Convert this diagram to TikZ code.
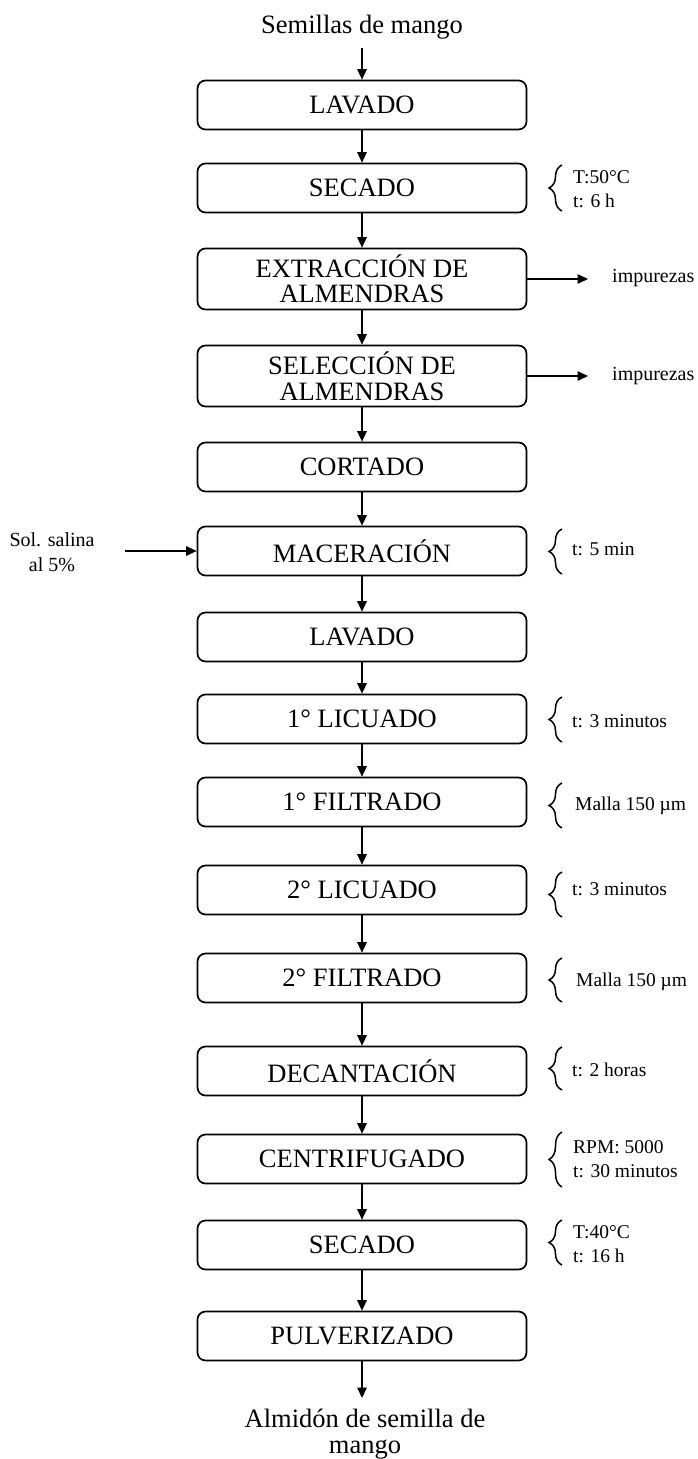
\documentclass[tikz,border=0pt]{standalone}
\usepackage{fontspec}
\setmainfont{Liberation Serif}
\usetikzlibrary{arrows.meta,decorations.pathreplacing}
\begin{document}
\begin{tikzpicture}[x=1pt,y=-1pt,
  proc/.style={draw, line width=1.7pt, rounded corners=8pt, minimum width=329pt,
    minimum height=49pt, align=center, font=\fontsize{26.5}{25.5}\selectfont, inner sep=0pt},
  tall/.style={minimum height=61pt},
  flow/.style={line width=1.5pt, -{Triangle[length=10.5pt,width=9.5pt]}},
  note/.style={anchor=west, align=left, font=\fontsize{19.5}{24}\selectfont, inner sep=0pt},
  lbl/.style={align=center, font=\fontsize{26.5}{25.5}\selectfont, inner sep=0pt},
  side/.style={align=center, font=\fontsize{20}{25}\selectfont, inner sep=0pt},
  br/.style={decorate, decoration={brace, amplitude=13pt}, line width=1.5pt},
]
\useasboundingbox (0,0) rectangle (697,1459);

% input / output labels
\node[lbl] (top) at (362,27) {Semillas de mango};
\coordinate (s0) at (362,48);
\node[lbl] (bot) at (365,1434) {Almidón de semilla de\\mango};
\coordinate (e0) at (362,1398);

% process boxes
\node[proc] (p1) at (362,105) {LAVADO};
\node[proc] (p2) at (362,188) {SECADO};
\node[proc,tall] (p3) at (362,279) {EXTRACCIÓN DE\\ALMENDRAS};
\node[proc,tall] (p4) at (362,376) {SELECCIÓN DE\\ALMENDRAS};
\node[proc] (p5) at (362,467) {CORTADO};
\node[proc] (p6) at (362,551) {MACERACIÓN};
\node[proc] (p7) at (362,637) {LAVADO};
\node[proc] (p8) at (362,719) {1° LICUADO};
\node[proc] (p9) at (362,802) {1° FILTRADO};
\node[proc] (p10) at (362,890) {2° LICUADO};
\node[proc] (p11) at (362,978) {2° FILTRADO};
\node[proc] (p12) at (362,1071) {DECANTACIÓN};
\node[proc] (p13) at (362,1159) {CENTRIFUGADO};
\node[proc] (p14) at (362,1245) {SECADO};
\node[proc] (p15) at (362,1336) {PULVERIZADO};

% main flow
\draw[flow] (s0) -- (p1);
\foreach \a/\b in {p1/p2,p2/p3,p3/p4,p4/p5,p5/p6,p6/p7,p7/p8,p8/p9,p9/p10,p10/p11,p11/p12,p12/p13,p13/p14,p14/p15}
  \draw[flow] (\a) -- (\b);
\draw[flow] (p15) -- (e0);

% impurities
\coordinate (i1) at (588,279);
\coordinate (i2) at (588,376);
\draw[flow] (p3.east) -- (i1);
\draw[flow] (p4.east) -- (i2);
\node[note,font=\fontsize{20}{24}\selectfont] (t1) at (612,278) {impurezas};
\node[note,font=\fontsize{20}{24}\selectfont] (t2) at (612,376) {impurezas};

% saline input
\node[side] (sal) at (52,552) {Sol. salina\\al 5\%};
\coordinate (sa) at (125,551);
\draw[flow] (sa) -- (p6.west);

% braces and conditions
\draw[br] (562,211) -- (562,165);
\node[note] (n2) at (573,189) {T:50°C\\t: 6 h};
\draw[br] (562,574) -- (562,529);
\node[note] (n6) at (572,549) {t: 5 min};
\draw[br] (562,742) -- (562,697);
\node[note] (n8) at (572,721) {t: 3 minutos};
\draw[br] (562,828) -- (562,783);
\node[note] (n9) at (575,806) {Malla 150 µm};
\draw[br] (562,917) -- (562,872);
\node[note] (n10) at (572,889) {t: 3 minutos};
\draw[br] (562,1002) -- (562,958);
\node[note] (n11) at (576,982) {Malla 150 µm};
\draw[br] (562,1090) -- (562,1047);
\node[note] (n12) at (572,1070) {t: 2 horas};
\draw[br] (562,1187) -- (562,1132);
\node[note] (n13) at (573,1159) {RPM: 5000\\t: 30 minutos};
\draw[br] (562,1265) -- (562,1220);
\node[note] (n14) at (573,1244) {T:40°C\\t: 16 h};
\end{tikzpicture}
\end{document}
